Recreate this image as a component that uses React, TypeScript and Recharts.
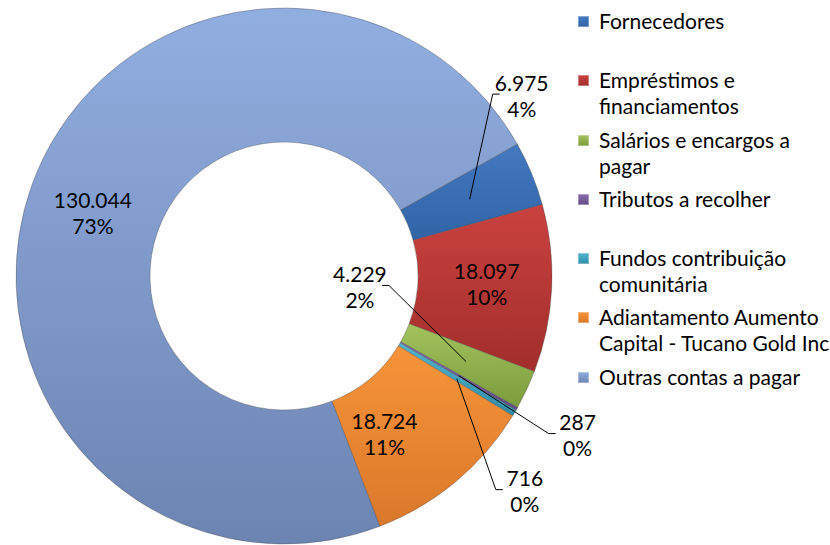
import { PieChart, Pie, Cell, Legend } from "recharts";

const categories = [
  "Fornecedores",
  "Empréstimos e financiamentos",
  "Salários e encargos a pagar",
  "Tributos a recolher",
  "Fundos contribuição comunitária",
  "Adiantamento Aumento Capital - Tucano Gold Inc",
  "Outras contas a pagar",
];
const values = [6975, 18097, 4229, 287, 716, 18724, 130044];
const topColors = ["#4479C0", "#C9423F", "#A2C35E", "#8A6DB0", "#52B6D0", "#F7943A", "#91AEE0"];
const bottomColors = ["#3163A6", "#A22E2C", "#7C9B3C", "#634B85", "#2F8CA6", "#D9782A", "#6C84B2"];

// where each data label sits, relative to the middle of its slice
const labelOffsets = [
  { dx: 52, dy: -104, leader: true },
  { dx: 2, dy: -2, leader: false },
  { dx: -106, dy: -75, leader: true },
  { dx: 119, dy: 59, leader: true },
  { dx: 68, dy: 112, leader: true },
  { dx: -28, dy: 3, leader: false },
  { dx: -2, dy: 5, leader: false },
];

const data = categories.map((name, i) => ({ name, value: values[i] }));

// whole percentages that add up to 100 (largest remainder), as the sheet shows them
const total = values.reduce((a, b) => a + b, 0);
const rawPct = values.map((v) => (v / total) * 100);
const pctLabels = rawPct.map((p) => Math.floor(p));
const leftover = 100 - pctLabels.reduce((a, b) => a + b, 0);
rawPct
  .map((p, i) => ({ i, rem: p - Math.floor(p) }))
  .sort((a, b) => b.rem - a.rem)
  .slice(0, leftover)
  .forEach(({ i }) => (pctLabels[i] += 1));

const FONT = "Lato, 'Open Sans', sans-serif";
const RAD = Math.PI / 180;

const fmt = (v: number) => String(v).replace(/\B(?=(\d{3})+(?!\d))/g, ".");

function renderLabel(props: any) {
  const { cx, cy, midAngle, innerRadius, outerRadius, value, index } = props;
  const r = (innerRadius + outerRadius) / 2;
  const ax = cx + r * Math.cos(-midAngle * RAD);
  const ay = cy + r * Math.sin(-midAngle * RAD);
  const p = labelOffsets[index];
  const tx = ax + p.dx;
  const ty = ay + p.dy;
  const side = p.dx > 0 ? 1 : -1;
  return (
    <g key={`lbl-${index}`}>
      {p.leader && (
        <polyline
          points={`${tx - side * 22},${ty - 1} ${tx - side * 29},${ty - 1} ${ax},${ay}`}
          fill="none"
          stroke="#000"
          strokeWidth={1}
        />
      )}
      <text x={tx} y={ty} textAnchor="middle" fontFamily={FONT} fontSize={21} fill="#000">
        <tspan x={tx} y={ty - 13} dominantBaseline="central">
          {fmt(value)}
        </tspan>
        <tspan x={tx} y={ty + 13} dominantBaseline="central">
          {pctLabels[index]}%
        </tspan>
      </text>
    </g>
  );
}

function LegendBox() {
  return (
    <div style={{ fontFamily: FONT, fontSize: 21, color: "#000" }}>
      {categories.map((name, i) => (
        <div
          key={name}
          style={{ position: "relative", height: 59.3, paddingLeft: 21, lineHeight: "26px", width: 232 }}
        >
          <span
            style={{
              position: "absolute",
              left: 0,
              top: 8,
              width: 11,
              height: 11,
              background: `linear-gradient(${topColors[i]}, ${bottomColors[i]})`,
              boxShadow: "inset 0 0 0 1px rgba(255,255,255,0.35)",
            }}
          />
          {name}
        </div>
      ))}
    </div>
  );
}

export default function App() {
  return (
    <div
      style={{
        position: "absolute",
        left: 0,
        top: 0,
        width: 830,
        height: 545,
        overflow: "hidden",
        background: "#fff",
      }}
    >
      <PieChart width={830} height={545} margin={{ top: 0, right: 0, bottom: 0, left: 0 }}>
        <defs>
          {categories.map((name, i) => (
            <linearGradient key={name} id={`grad-${i}`} x1="0" y1="0" x2="0" y2="1">
              <stop offset="0%" stopColor={topColors[i]} />
              <stop offset="100%" stopColor={bottomColors[i]} />
            </linearGradient>
          ))}
        </defs>
        <Pie
          data={data}
          dataKey="value"
          nameKey="name"
          cx={284}
          cy={276}
          innerRadius={134}
          outerRadius={268}
          startAngle={29.5}
          endAngle={29.5 - 360}
          stroke="rgba(70,70,70,0.35)"
          strokeWidth={1}
          label={renderLabel}
          labelLine={false}
          isAnimationActive={false}
        >
          {data.map((d, i) => (
            <Cell key={d.name} fill={`url(#grad-${i})`} />
          ))}
        </Pie>
        <Legend
          layout="vertical"
          align="right"
          verticalAlign="top"
          content={() => <LegendBox />}
          wrapperStyle={{ position: "absolute", left: 578, top: 8, width: 252 }}
        />
      </PieChart>
    </div>
  );
}
